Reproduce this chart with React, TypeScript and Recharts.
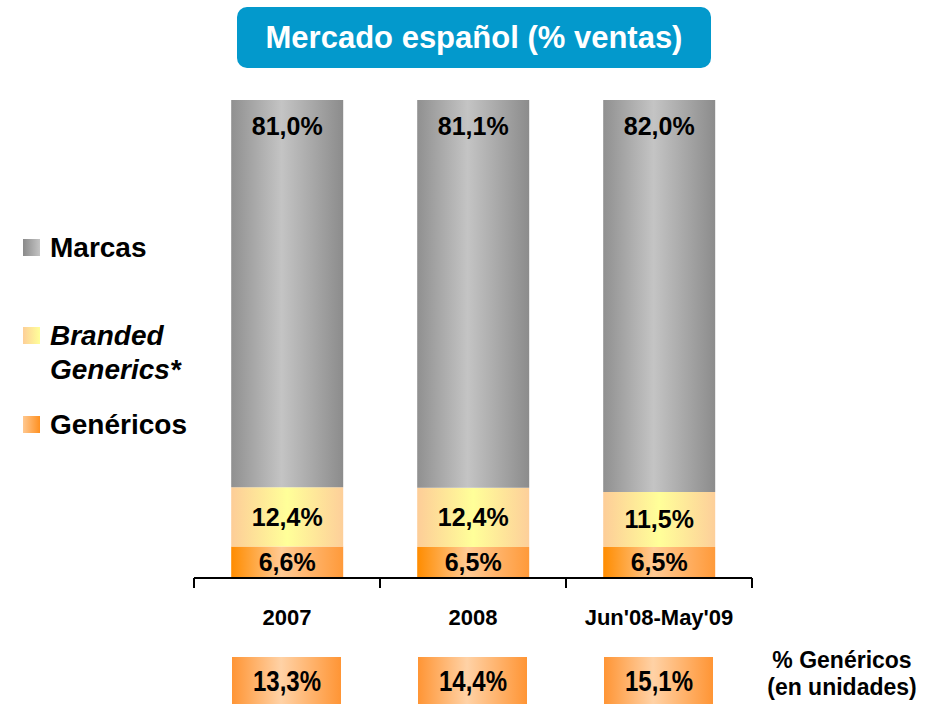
import React from 'react';
import { BarChart, Bar, XAxis, YAxis, Legend, LabelList } from 'recharts';

const categories = ['2007', '2008', "Jun'08-May'09"];
const genericos = [6.6, 6.5, 6.5];
const branded = [12.4, 12.4, 11.5];
const marcas = [81.0, 81.1, 82.0];
const genericosUnidades = [13.3, 14.4, 15.1];

const FONT = "'Liberation Sans', Arial, sans-serif";

const data = categories.map((name, i) => ({
  name,
  genericos: genericos[i],
  branded: branded[i],
  marcas: marcas[i],
  unidades: genericosUnidades[i],
}));

const fmt = (v: number) => v.toFixed(1).replace('.', ',') + '%';

const labelStyle = { fill: '#000', fontSize: 25, fontWeight: 'bold', fontFamily: FONT };

// category label + tick marks at band edges + the "% genéricos en unidades" box under each bar
const CategoryTick = (props: any) => {
  const { x, y, payload, index } = props;
  const half = payload.offset || 93;
  const last = index === categories.length - 1;
  return (
    <g>
      <line x1={x - half} x2={x - half} y1={y} y2={y + 10} stroke="#000" strokeWidth={2} />
      {last && <line x1={x + half} x2={x + half} y1={y} y2={y + 10} stroke="#000" strokeWidth={2} />}
      <text x={x} y={y + 47} textAnchor="middle" fontFamily={FONT} fontWeight="bold" fontSize={22} fill="#000">
        {payload.value}
      </text>
      <rect x={x - 55} y={y + 79} width={109} height={48} fill="url(#gradBox)" />
      <text
        x={x}
        y={y + 113}
        textAnchor="middle"
        fontFamily={FONT}
        fontWeight="bold"
        fontSize={29}
        textLength={68}
        lengthAdjust="spacingAndGlyphs"
        fill="#000"
      >
        {fmt(genericosUnidades[index])}
      </text>
      {last && (
        <text x={x + half + 90} textAnchor="middle" fontFamily={FONT} fontWeight="bold" fontSize={23} fill="#000">
          <tspan x={x + half + 90} y={y + 90}>% Genéricos</tspan>
          <tspan x={x + half + 90} y={y + 117}>(en unidades)</tspan>
        </text>
      )}
    </g>
  );
};

const legendItems = [
  { lines: ['Marcas'], italic: false, grad: 'linear-gradient(to right, #8a8a8a, #c4c4c4)', h: 88 },
  { lines: ['Branded', 'Generics*'], italic: true, grad: 'linear-gradient(to right, #fdcf98, #ffff99)', h: 89 },
  { lines: ['Genéricos'], italic: false, grad: 'linear-gradient(to right, #ffc890, #ff9020)', h: 40 },
];

const LegendContent = () => (
  <div style={{ fontFamily: FONT, fontWeight: 'bold', fontSize: 28, lineHeight: '34px', color: '#000' }}>
    {legendItems.map((it) => (
      <div key={it.lines[0]} style={{ position: 'relative', height: it.h }}>
        <div style={{ position: 'absolute', left: 23, top: 8, width: 17, height: 17, background: it.grad }} />
        <div style={{ position: 'absolute', left: 50, top: 0, fontStyle: it.italic ? 'italic' : 'normal', whiteSpace: 'nowrap' }}>
          {it.lines.map((l) => (
            <div key={l}>{l}</div>
          ))}
        </div>
      </div>
    ))}
  </div>
);

export default function App() {
  return (
    <div style={{ position: 'absolute', left: 0, top: 0, width: 941, height: 704, background: '#fff' }}>
      <div
        style={{
          position: 'absolute',
          left: 237,
          top: 7,
          width: 474,
          height: 61,
          background: '#0399cc',
          borderRadius: 10,
          color: '#fff',
          fontFamily: FONT,
          fontWeight: 'bold',
          fontSize: 31,
          lineHeight: '61px',
          textAlign: 'center',
          zIndex: 2,
        }}
      >
        Mercado español (% ventas)
      </div>
      <BarChart
        width={941}
        height={704}
        data={data}
        margin={{ top: 100, right: 189, bottom: 0, left: 194 }}
        barCategoryGap="20%"
      >
        <defs>
          <linearGradient id="gradMarcas" x1="0" y1="0" x2="1" y2="0">
            <stop offset="0%" stopColor="#909090" />
            <stop offset="45%" stopColor="#c4c4c4" />
            <stop offset="100%" stopColor="#8c8c8c" />
          </linearGradient>
          <linearGradient id="gradBranded" x1="0" y1="0" x2="1" y2="0">
            <stop offset="0%" stopColor="#fdcd98" />
            <stop offset="50%" stopColor="#ffff99" />
            <stop offset="100%" stopColor="#fdcf9a" />
          </linearGradient>
          <linearGradient id="gradGenericos" x1="0" y1="0" x2="1" y2="0">
            <stop offset="0%" stopColor="#ff8c00" />
            <stop offset="45%" stopColor="#ffca94" />
            <stop offset="100%" stopColor="#ff9a3a" />
          </linearGradient>
          <linearGradient id="gradBox" x1="0" y1="0" x2="1" y2="0">
            <stop offset="0%" stopColor="#ff9535" />
            <stop offset="45%" stopColor="#ffd2a6" />
            <stop offset="100%" stopColor="#ff9535" />
          </linearGradient>
        </defs>
        <XAxis
          dataKey="name"
          height={126}
          axisLine={{ stroke: '#000', strokeWidth: 2 }}
          tickLine={false}
          tickSize={0}
          tickMargin={0}
          interval={0}
          tick={<CategoryTick />}
        />
        <YAxis hide domain={[0, 100]} />
        <Legend
          layout="vertical"
          align="center"
          verticalAlign="middle"
          content={<LegendContent />}
          wrapperStyle={{ left: 0, top: 231, width: 220 }}
        />
        <Bar dataKey="genericos" stackId="a" fill="url(#gradGenericos)" isAnimationActive={false}>
          <LabelList dataKey="genericos" position="center" formatter={(v: any) => fmt(Number(v))} style={labelStyle} />
        </Bar>
        <Bar dataKey="branded" stackId="a" fill="url(#gradBranded)" isAnimationActive={false}>
          <LabelList dataKey="branded" position="center" formatter={(v: any) => fmt(Number(v))} style={labelStyle} />
        </Bar>
        <Bar dataKey="marcas" stackId="a" fill="url(#gradMarcas)" isAnimationActive={false}>
          <LabelList dataKey="marcas" position="insideTop" offset={17} formatter={(v: any) => fmt(Number(v))} style={labelStyle} />
        </Bar>
      </BarChart>
    </div>
  );
}
